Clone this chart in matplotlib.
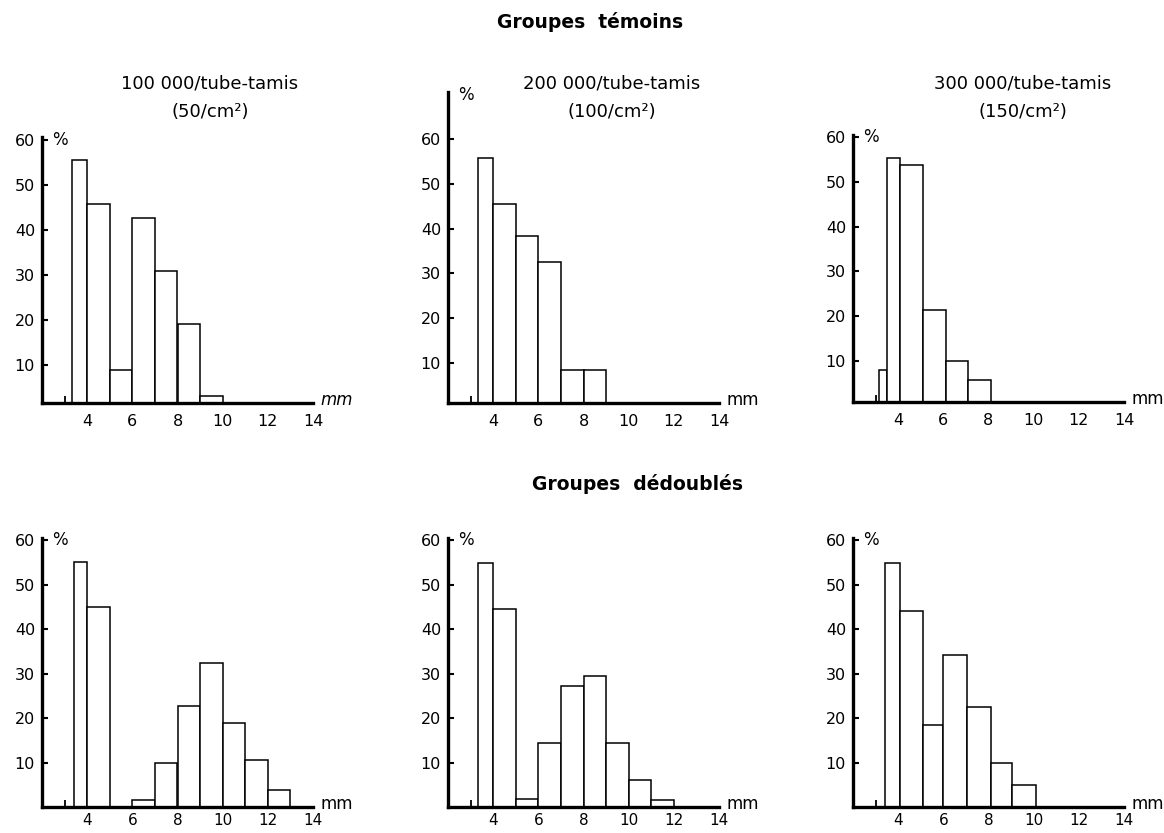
import numpy as np
import matplotlib
matplotlib.use('Agg')
import matplotlib.pyplot as plt
import matplotlib.transforms as mtransforms

plt.rcParams['font.family'] = ['DejaVu Sans']

# class edges (mm) and percentages
edges_t100 = [3.35, 4, 5, 6, 7, 8, 9, 10]
pct_t100 = [55.4, 45.8, 8.9, 42.6, 30.9, 19.1, 3.1]

edges_t200 = [3.35, 4, 5, 6, 7, 8, 9]
pct_t200 = [55.7, 45.5, 38.3, 32.6, 8.3, 8.3]

edges_t300 = [3.15, 3.5, 4.1, 5.1, 6.1, 7.1, 8.1]
pct_t300 = [7.9, 55.3, 53.8, 21.4, 10.0, 5.7]

edges_d100 = [3.4, 4, 5, 6, 7, 8, 9, 10, 11, 12, 13]
pct_d100 = [55.0, 45.0, 0, 1.5, 10.0, 22.7, 32.3, 19.0, 10.6, 3.9]

edges_d200 = [3.35, 4, 5, 6, 7, 8, 9, 10, 11, 12]
pct_d200 = [54.9, 44.6, 1.7, 14.4, 27.3, 29.5, 14.5, 6.0, 1.5]

edges_d300 = [3.4, 4.1, 5.1, 6.0, 7.05, 8.1, 9.05, 10.1]
pct_d300 = [54.9, 44.0, 18.4, 34.1, 22.6, 10.0, 4.9]

xticks = [4, 6, 8, 10, 12, 14]
yticks = [10, 20, 30, 40, 50, 60]

W, H = 1164, 833
fig = plt.figure(figsize=(W / 100, H / 100), dpi=100)


def make_panel(px_left, px_bottom, px_top, ylim, edges, pct, mm_italic=False,
               pct_y=60, xpad=8, xsize=11.5):
    px_width = 271
    rect = [px_left / W, (H - px_bottom) / H, px_width / W, (px_bottom - px_top) / H]
    ax = fig.add_axes(rect)
    ax.bar(edges[:-1], pct, width=np.diff(edges), align='edge',
           facecolor='white', edgecolor='black', linewidth=1.1)
    ax.set_xlim(2, 14)
    ax.set_ylim(*ylim)
    for s in ['top', 'right']:
        ax.spines[s].set_visible(False)
    for s in ['left', 'bottom']:
        ax.spines[s].set_linewidth(2.4)
    ax.set_xticks(xticks)
    ax.set_xticks([3], minor=True)
    ax.tick_params(axis='x', which='major', length=0, pad=xpad, labelsize=xsize)
    ax.tick_params(axis='x', which='minor', direction='in', length=5, width=1.3)
    ax.set_yticks(yticks)
    ax.tick_params(axis='y', direction='in', length=4, width=1.5, pad=5, labelsize=11.5)
    ax.text(2.45, pct_y, '%', ha='left', va='center', fontsize=12)
    trans = mtransforms.blended_transform_factory(ax.transData, ax.transAxes)
    ax.text(14.35, 0.01, 'mm', transform=trans, ha='left', va='center', fontsize=12,
            style='italic' if mm_italic else 'normal', clip_on=False)
    return ax


make_panel(42, 403, 137.5, (1.5, 60.5), edges_t100, pct_t100, mm_italic=True)
make_panel(448, 403, 92.3, (1.0, 70.5), edges_t200, pct_t200, pct_y=70)
make_panel(853, 402, 134.8, (0.85, 60.5), edges_t300, pct_t300)
make_panel(42, 807, 538, (0, 60.5), edges_d100, pct_d100, xpad=4, xsize=11)
make_panel(448, 807, 538, (0, 60.5), edges_d200, pct_d200, xpad=4, xsize=11)
make_panel(853, 807, 538, (0, 60.5), edges_d300, pct_d300, xpad=4, xsize=11)

# titles and subtitles
fig.text(590 / W, 1 - 22 / H, 'Groupes  témoins', ha='center', va='center',
         fontsize=13.5, fontweight='bold')
fig.text(637 / W, 1 - 484 / H, 'Groupes  dédoublés', ha='center', va='center',
         fontsize=13.5, fontweight='bold')

subs = [('100 000/tube-tamis', '(50/cm²)', 210),
        ('200 000/tube-tamis', '(100/cm²)', 612),
        ('300 000/tube-tamis', '(150/cm²)', 1023)]
for line1, line2, cx in subs:
    fig.text(cx / W, 1 - 84 / H, line1, ha='center', va='center', fontsize=13)
    fig.text(cx / W, 1 - 112 / H, line2, ha='center', va='center', fontsize=13)

fig.savefig('out.png', dpi=100)
